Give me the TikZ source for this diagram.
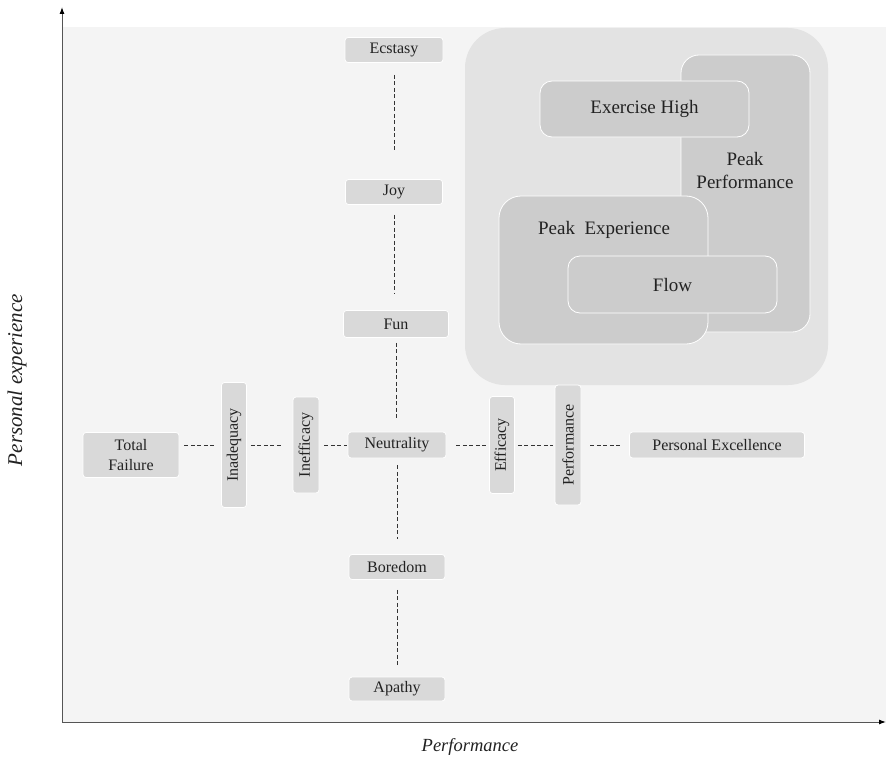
\documentclass[tikz,border=0pt]{standalone}
\usepackage{fontspec}
\setmainfont{Liberation Serif}
\usetikzlibrary{arrows.meta}
\definecolor{bgc}{HTML}{F4F4F4}
\definecolor{regionc}{HTML}{E3E3E3}
\definecolor{bigc}{HTML}{CCCCCC}
\definecolor{smallc}{HTML}{D9D9D9}
\definecolor{txtc}{HTML}{222222}
\definecolor{dashc}{HTML}{333333}
\definecolor{axisc}{HTML}{555555}
\tikzset{
  sbox/.style={fill=smallc, draw=white, line width=0.8pt, rounded corners=3pt, inner sep=0pt,
    text=txtc, font=\fontsize{16}{20}\selectfont, align=center},
  bbox/.style={fill=bigc, draw=white, line width=0.8pt, inner sep=0pt,
    text=txtc, font=\fontsize{19}{23}\selectfont, align=center},
  btext/.style={text=txtc, font=\fontsize{19}{23}\selectfont, align=center, inner sep=0pt},
  dline/.style={draw=dashc, line width=1pt, dash pattern=on 4pt off 2.5pt},
  axisline/.style={draw=axisc, line width=1pt, -{Latex[length=7pt,width=5pt,color=black]}},
  axlabel/.style={text=txtc, font=\itshape, inner sep=0pt}
}
\begin{document}
\begin{tikzpicture}[x=1pt,y=-1pt]
\useasboundingbox (0,0) rectangle (886,760);
\fill[bgc] (63,27) rectangle (886,722);

% axes
\coordinate (O) at (62,722);
\coordinate (Ytop) at (62,7);
\coordinate (Xend) at (886,722);
\draw[axisline] (O) -- (Ytop);
\draw[axisline] (O) -- (Xend);
\node[axlabel, font=\fontsize{21}{24}\selectfont\itshape, rotate=90] (ylab) at (17,380) {Personal experience};
\node[axlabel, font=\fontsize{18.5}{22}\selectfont\itshape] (xlab) at (470,747) {Performance};

% big region
\node[fill=regionc, rounded corners=40pt, minimum width=363, minimum height=357, inner sep=0pt] (region) at (646.5,206.5) {};
\node[bbox, rounded corners=18pt, minimum width=129, minimum height=277] (pp) at (745.5,193.5) {};
\node[btext] (pplab) at (745,170) {Peak\\Performance};
\node[bbox, rounded corners=12pt, minimum width=209, minimum height=56] (eh) at (644.5,109) {Exercise High};
\node[bbox, rounded corners=22pt, minimum width=209, minimum height=148] (pe) at (603.5,270) {};
\node[btext] (pelab) at (604,230) {Peak\ \ Experience};
\node[bbox, rounded corners=12pt, minimum width=209, minimum height=57] (flow) at (672.5,284.5) {Flow};

% vertical axis of states
\node[sbox, minimum width=98, minimum height=25] (ecs) at (394,50) {Ecstasy};
\node[sbox, minimum width=97, minimum height=25] (joy) at (394,192) {Joy};
\node[sbox, minimum width=105, minimum height=27] (fun) at (396,324) {Fun};
\node[sbox, minimum width=98, minimum height=26] (neut) at (397,445) {Neutrality};
\node[sbox, minimum width=96, minimum height=25] (bor) at (397,567) {Boredom};
\node[sbox, minimum width=96, minimum height=24] (apa) at (397,689) {Apathy};

% horizontal axis of states
\node[sbox, minimum width=96, minimum height=45] (tf) at (131,455) {Total\\Failure};
\node[sbox, rotate=90, minimum width=125, minimum height=25] (inad) at (234,445) {Inadequacy};
\node[sbox, rotate=90, minimum width=96, minimum height=26] (ineff) at (306,445) {Inefficacy};
\node[sbox, rotate=90, minimum width=97, minimum height=25] (eff) at (502,445) {Efficacy};
\node[sbox, rotate=90, minimum width=120, minimum height=26] (perf) at (568,445) {Performance};
\node[sbox, minimum width=175, minimum height=26] (pex) at (717,445) {Personal Excellence};

% dashed connectors (vertical)
\draw[dline, shorten <=12pt, shorten >=27pt] (ecs.south) -- (joy.north);
\draw[dline, shorten <=10pt, shorten >=16pt] (joy.south) -- (joy.south |- fun.north);
\draw[dline, shorten <=5pt, shorten >=12pt] (fun.south) -- (fun.south |- neut.north);
\draw[dline, shorten <=7pt, shorten >=15pt] (neut.south) -- (bor.north);
\draw[dline, shorten <=10pt, shorten >=9pt] (bor.south) -- (apa.north);

% dashed connectors (horizontal); rotated nodes: north = left side, south = right side
\draw[dline, shorten <=5pt, shorten >=6pt] (tf.east |- neut.west) -- (inad.north);
\draw[dline, shorten <=4pt, shorten >=10pt] (inad.south) -- (ineff.north);
\draw[dline, shorten <=5pt, shorten >=1pt] (ineff.south) -- (neut.west);
\draw[dline, shorten <=10pt, shorten >=3pt] (neut.east) -- (eff.north);
\draw[dline, shorten <=3pt, shorten >=2pt] (eff.south) -- (perf.north);
\draw[dline, shorten <=9pt, shorten >=7pt] (perf.south) -- (pex.west);
\end{tikzpicture}
\end{document}
